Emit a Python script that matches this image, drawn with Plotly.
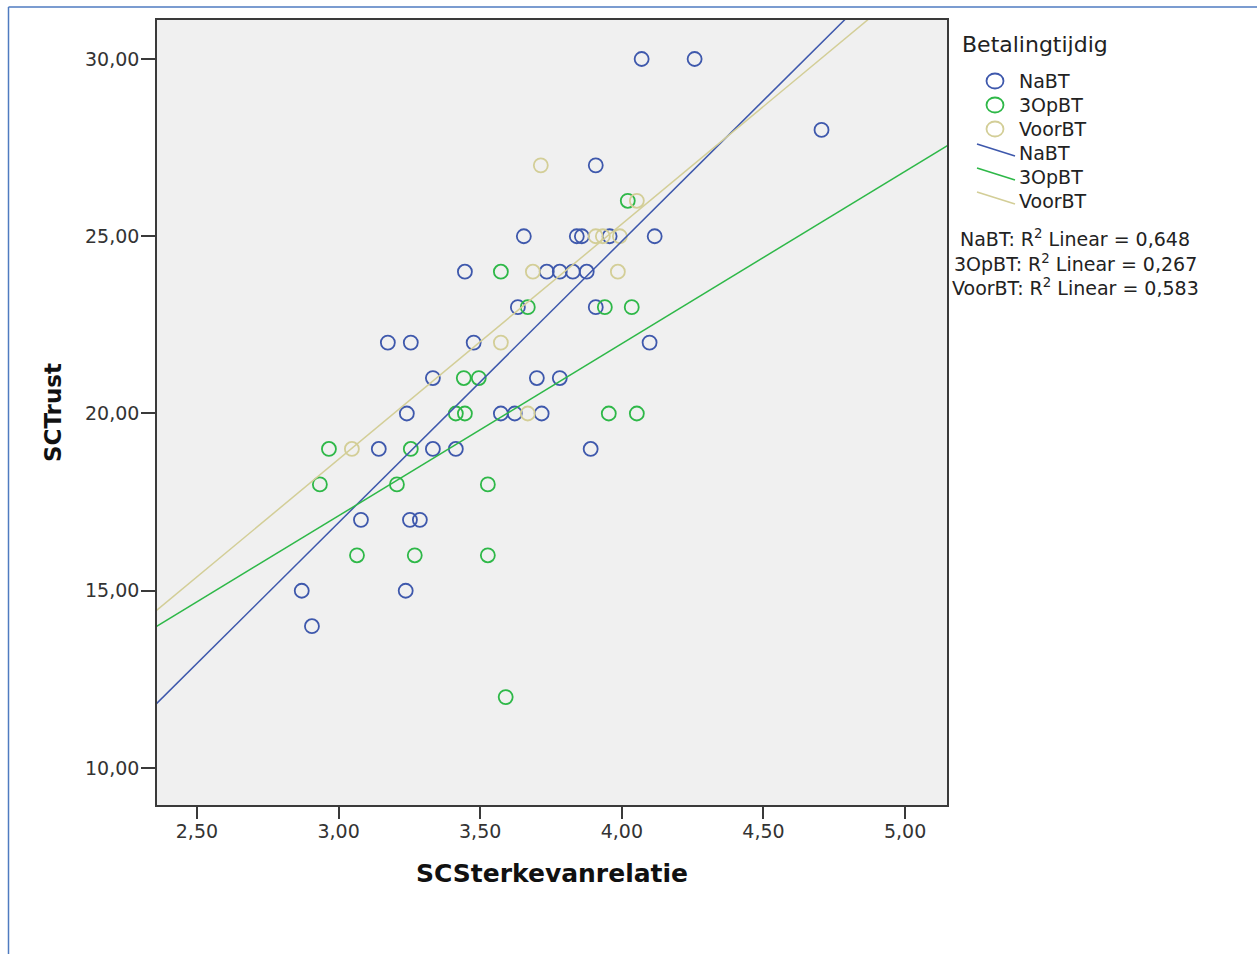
import plotly.graph_objects as go

# ---- data ----
nabt_x = [4.070, 4.257, 4.705, 3.908,
          3.654, 3.841, 3.859, 3.957, 4.116,
          3.446, 3.735, 3.781, 3.827, 3.876,
          3.633, 3.908,
          3.174, 3.255, 3.477, 4.098,
          3.333, 3.700, 3.781,
          3.241, 3.573, 3.622, 3.717,
          3.142, 3.333, 3.414, 3.890,
          3.079, 3.252, 3.287,
          2.870, 3.237,
          2.906]
nabt_y = [30, 30, 28, 27,
          25, 25, 25, 25, 25,
          24, 24, 24, 24, 24,
          23, 23,
          22, 22, 22, 22,
          21, 21, 21,
          20, 20, 20, 20,
          19, 19, 19, 19,
          17, 17, 17,
          15, 15,
          14]

opbt_x = [4.021,
          3.573,
          3.668, 3.940, 4.035,
          3.442, 3.495,
          3.414, 3.446, 3.954, 4.053,
          2.966, 3.255,
          2.934, 3.206, 3.527,
          3.065, 3.269, 3.527,
          3.590]
opbt_y = [26,
          24,
          23, 23, 23,
          21, 21,
          20, 20, 20, 20,
          19, 19,
          18, 18, 18,
          16, 16, 16,
          12]

voor_x = [3.714, 4.053, 3.908, 3.933, 3.993, 3.686, 3.986, 3.573, 3.668, 3.047]
voor_y = [27, 26, 25, 25, 25, 24, 24, 22, 20, 19]

# fitted lines (slope, intercept)
fit_nabt = (7.94, -6.90)
fit_opbt = (4.858, 2.54)
fit_voor = (6.636, -1.20)

names = ["NaBT", "3OpBT", "VoorBT"]
colors = ["#3E58AC", "#2EB848", "#D3CE97"]
r2_values = ["0,648", "0,267", "0,583"]
legend_title = "Betalingtijdig"

x_range = [2.359, 5.148]
y_range = [8.956, 31.10]
x_ticks = [2.5, 3.0, 3.5, 4.0, 4.5, 5.0]
y_ticks = [10, 15, 20, 25, 30]

# ---- layout geometry (pixels) ----
W, H = 1257, 954
L, R, T, B = 157, 947, 20, 805


def px(xp):
    return (xp - L) / (R - L)


def py(yp):
    return (B - yp) / (B - T)


fig = go.Figure()

for nm, xs, ys, c in zip(names, [nabt_x, opbt_x, voor_x], [nabt_y, opbt_y, voor_y], colors):
    fig.add_trace(go.Scatter(
        x=xs, y=ys, mode="markers", name=nm, showlegend=False,
        marker=dict(symbol="circle-open", size=14, color=c, line=dict(width=1.8, color=c)),
    ))

for nm, (m, b), c in zip(names, [fit_nabt, fit_opbt, fit_voor], colors):
    lx = [x_range[0] - 0.1, x_range[1] + 0.1]
    fig.add_trace(go.Scatter(
        x=lx, y=[m * v + b for v in lx], mode="lines", name=nm, showlegend=False,
        line=dict(color=c, width=1.5),
    ))

tick_font = dict(family="DejaVu Sans, Verdana, sans-serif", size=19, color="#333333")
title_font = dict(family="DejaVu Sans, Verdana, sans-serif", size=25, color="#111111")
leg_font = dict(family="DejaVu Sans, Verdana, sans-serif", size=19, color="#222222")

fig.update_layout(
    width=W, height=H,
    margin=dict(l=L, r=W - R, t=T, b=H - B),
    paper_bgcolor="white",
    plot_bgcolor="#F0F0F0",
    separators=",.",
    showlegend=False,
    xaxis=dict(
        range=x_range, tickvals=x_ticks, tickformat=".2f",
        showgrid=False, zeroline=False, showline=True, mirror=True,
        linecolor="#3a3a3a", linewidth=1.6,
        ticks="outside", ticklen=12, tickwidth=1.6, tickcolor="#3a3a3a",
        ticklabelstandoff=-4,
        tickfont=tick_font,
        title=dict(text="<b>SCSterkevanrelatie</b>", font=title_font, standoff=24),
    ),
    yaxis=dict(
        range=y_range, tickvals=y_ticks, tickformat=".2f",
        showgrid=False, zeroline=False, showline=True, mirror=True,
        linecolor="#3a3a3a", linewidth=1.6,
        ticks="outside", ticklen=14, tickwidth=1.6, tickcolor="#3a3a3a",
        ticklabelstandoff=-2,
        tickfont=tick_font,
        title=dict(text="<b>SCTrust</b>", font=dict(title_font, size=23), standoff=17),
    ),
)

# ---- legend drawn SPSS-style ----
fig.add_annotation(xref="paper", yref="paper", x=px(960), y=py(45), text=legend_title,
                   showarrow=False, xanchor="left", yanchor="middle",
                   font=dict(leg_font, size=22))

marker_rows = [81, 105, 129]
line_rows = [153, 177, 201]
for i, (nm, c) in enumerate(zip(names, colors)):
    ym = marker_rows[i]
    fig.add_shape(type="circle", xref="paper", yref="paper",
                  xsizemode="pixel", ysizemode="pixel",
                  xanchor=px(995), yanchor=py(ym), x0=-8.5, x1=8.5, y0=-7.5, y1=7.5,
                  line=dict(color=c, width=1.8))
    fig.add_annotation(xref="paper", yref="paper", x=px(1017), y=py(ym), text=nm,
                       showarrow=False, xanchor="left", yanchor="middle", font=leg_font)
    yl = line_rows[i]
    fig.add_shape(type="line", xref="paper", yref="paper",
                  x0=px(977), y0=py(yl - 9), x1=px(1015), y1=py(yl + 3),
                  line=dict(color=c, width=1.6))
    fig.add_annotation(xref="paper", yref="paper", x=px(1017), y=py(yl), text=nm,
                       showarrow=False, xanchor="left", yanchor="middle", font=leg_font)

for i, (nm, r2) in enumerate(zip(names, r2_values)):
    fig.add_annotation(
        xref="paper", yref="paper", x=px(1075), y=py(238 + 24.5 * i),
        text=f"{nm}: R<sup>2</sup> Linear = {r2}", showarrow=False,
        xanchor="center", yanchor="middle", font=leg_font,
    )

# outer blue page frame
fig.add_shape(type="line", xref="paper", yref="paper",
              x0=px(8.5), x1=px(W + 20), y0=py(7), y1=py(7),
              line=dict(color="#4F7BC0", width=1.5))
fig.add_shape(type="line", xref="paper", yref="paper",
              x0=px(8.5), x1=px(8.5), y0=py(7), y1=py(H + 20),
              line=dict(color="#4F7BC0", width=1.5))

fig.write_html("out.html")
